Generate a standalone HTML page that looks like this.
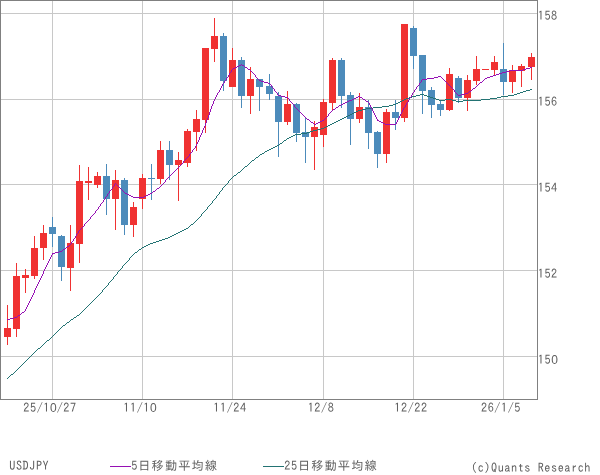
<!DOCTYPE html>
<html lang="ja"><head><meta charset="utf-8"><title>USDJPY</title>
<style>html,body{margin:0;padding:0;background:#fff}svg{display:block}text{font-family:"IPAGothic","Liberation Sans","Noto Sans CJK JP",sans-serif;font-size:12.2px;letter-spacing:0.57px;fill:#5E5E5E}.k{letter-spacing:1.13px}.z{font-family:"Liberation Sans",sans-serif;letter-spacing:0;font-size:12px}</style></head><body>
<svg width="600" height="475" viewBox="0 0 600 475">
<rect x="0" y="0" width="600" height="475" fill="#fff"/>
<g shape-rendering="crispEdges" stroke="#C8C8C8" stroke-width="1">
<line x1="52.5" y1="1" x2="52.5" y2="399"/>
<line x1="142.5" y1="1" x2="142.5" y2="399"/>
<line x1="232.5" y1="1" x2="232.5" y2="399"/>
<line x1="323.5" y1="1" x2="323.5" y2="399"/>
<line x1="413.5" y1="1" x2="413.5" y2="399"/>
<line x1="503.5" y1="1" x2="503.5" y2="399"/>
<line x1="1" y1="13.5" x2="537" y2="13.5"/>
<line x1="1" y1="99.5" x2="537" y2="99.5"/>
<line x1="1" y1="184.5" x2="537" y2="184.5"/>
<line x1="1" y1="270.5" x2="537" y2="270.5"/>
<line x1="1" y1="356.5" x2="537" y2="356.5"/>
</g>
<rect x="0.5" y="0.5" width="537" height="399" fill="none" stroke="#808080" stroke-width="1" shape-rendering="crispEdges"/>
<g shape-rendering="crispEdges">
<rect x="7" y="305" width="1" height="40" fill="#F03232"/>
<rect x="4" y="328" width="7" height="9" fill="#F03232"/>
<rect x="16" y="263" width="1" height="74" fill="#F03232"/>
<rect x="13" y="276" width="7" height="53" fill="#F03232"/>
<rect x="25" y="269" width="1" height="24" fill="#F03232"/>
<rect x="22" y="275" width="7" height="3" fill="#F03232"/>
<rect x="34" y="236" width="1" height="43" fill="#F03232"/>
<rect x="31" y="248" width="7" height="28" fill="#F03232"/>
<rect x="43" y="225" width="1" height="35" fill="#F03232"/>
<rect x="40" y="233" width="7" height="15" fill="#F03232"/>
<rect x="52" y="217" width="1" height="30" fill="#4C8BBB"/>
<rect x="49" y="227" width="7" height="7" fill="#4C8BBB"/>
<rect x="61" y="235" width="1" height="46" fill="#4C8BBB"/>
<rect x="58" y="236" width="7" height="31" fill="#4C8BBB"/>
<rect x="70" y="225" width="1" height="66" fill="#F03232"/>
<rect x="67" y="243" width="7" height="25" fill="#F03232"/>
<rect x="79" y="165" width="1" height="98" fill="#F03232"/>
<rect x="76" y="181" width="7" height="63" fill="#F03232"/>
<rect x="88" y="167" width="1" height="33" fill="#F03232"/>
<rect x="85" y="181" width="7" height="2" fill="#F03232"/>
<rect x="97" y="172" width="1" height="16" fill="#F03232"/>
<rect x="94" y="176" width="7" height="9" fill="#F03232"/>
<rect x="106" y="164" width="1" height="51" fill="#4C8BBB"/>
<rect x="103" y="176" width="7" height="23" fill="#4C8BBB"/>
<rect x="115" y="170" width="1" height="60" fill="#F03232"/>
<rect x="112" y="180" width="7" height="19" fill="#F03232"/>
<rect x="124" y="178" width="1" height="57" fill="#4C8BBB"/>
<rect x="121" y="180" width="7" height="45" fill="#4C8BBB"/>
<rect x="133" y="202" width="1" height="35" fill="#F03232"/>
<rect x="130" y="207" width="7" height="18" fill="#F03232"/>
<rect x="142" y="174" width="1" height="35" fill="#F03232"/>
<rect x="139" y="178" width="7" height="21" fill="#F03232"/>
<rect x="151" y="164" width="1" height="36" fill="#4C8BBB"/>
<rect x="148" y="178" width="7" height="1" fill="#4C8BBB"/>
<rect x="160" y="141" width="1" height="43" fill="#F03232"/>
<rect x="157" y="150" width="7" height="29" fill="#F03232"/>
<rect x="169" y="141" width="1" height="39" fill="#4C8BBB"/>
<rect x="166" y="150" width="7" height="15" fill="#4C8BBB"/>
<rect x="178" y="152" width="1" height="49" fill="#F03232"/>
<rect x="175" y="160" width="7" height="5" fill="#F03232"/>
<rect x="187" y="129" width="1" height="38" fill="#F03232"/>
<rect x="184" y="131" width="7" height="32" fill="#F03232"/>
<rect x="196" y="110" width="1" height="41" fill="#F03232"/>
<rect x="193" y="119" width="7" height="13" fill="#F03232"/>
<rect x="205" y="48" width="1" height="85" fill="#F03232"/>
<rect x="202" y="48" width="7" height="72" fill="#F03232"/>
<rect x="214" y="18" width="1" height="44" fill="#F03232"/>
<rect x="211" y="36" width="7" height="13" fill="#F03232"/>
<rect x="223" y="33" width="1" height="58" fill="#4C8BBB"/>
<rect x="220" y="36" width="7" height="45" fill="#4C8BBB"/>
<rect x="232" y="48" width="1" height="39" fill="#F03232"/>
<rect x="229" y="60" width="7" height="27" fill="#F03232"/>
<rect x="241" y="57" width="1" height="51" fill="#4C8BBB"/>
<rect x="238" y="60" width="7" height="36" fill="#4C8BBB"/>
<rect x="250" y="67" width="1" height="47" fill="#F03232"/>
<rect x="247" y="79" width="7" height="17" fill="#F03232"/>
<rect x="259" y="79" width="1" height="32" fill="#4C8BBB"/>
<rect x="256" y="79" width="7" height="8" fill="#4C8BBB"/>
<rect x="269" y="74" width="1" height="26" fill="#4C8BBB"/>
<rect x="266" y="86" width="7" height="8" fill="#4C8BBB"/>
<rect x="278" y="92" width="1" height="65" fill="#4C8BBB"/>
<rect x="275" y="96" width="7" height="26" fill="#4C8BBB"/>
<rect x="287" y="91" width="1" height="34" fill="#F03232"/>
<rect x="284" y="104" width="7" height="18" fill="#F03232"/>
<rect x="296" y="103" width="1" height="39" fill="#4C8BBB"/>
<rect x="293" y="104" width="7" height="29" fill="#4C8BBB"/>
<rect x="305" y="118" width="1" height="45" fill="#4C8BBB"/>
<rect x="302" y="132" width="7" height="5" fill="#4C8BBB"/>
<rect x="314" y="121" width="1" height="49" fill="#F03232"/>
<rect x="311" y="127" width="7" height="10" fill="#F03232"/>
<rect x="323" y="99" width="1" height="48" fill="#F03232"/>
<rect x="320" y="102" width="7" height="33" fill="#F03232"/>
<rect x="332" y="58" width="1" height="53" fill="#F03232"/>
<rect x="329" y="60" width="7" height="43" fill="#F03232"/>
<rect x="341" y="58" width="1" height="50" fill="#4C8BBB"/>
<rect x="338" y="60" width="7" height="36" fill="#4C8BBB"/>
<rect x="350" y="92" width="1" height="53" fill="#4C8BBB"/>
<rect x="347" y="95" width="7" height="24" fill="#4C8BBB"/>
<rect x="359" y="93" width="1" height="30" fill="#F03232"/>
<rect x="356" y="107" width="7" height="12" fill="#F03232"/>
<rect x="368" y="100" width="1" height="49" fill="#4C8BBB"/>
<rect x="365" y="107" width="7" height="26" fill="#4C8BBB"/>
<rect x="377" y="131" width="1" height="37" fill="#4C8BBB"/>
<rect x="374" y="132" width="7" height="22" fill="#4C8BBB"/>
<rect x="386" y="109" width="1" height="54" fill="#F03232"/>
<rect x="383" y="112" width="7" height="42" fill="#F03232"/>
<rect x="395" y="100" width="1" height="30" fill="#4C8BBB"/>
<rect x="392" y="112" width="7" height="6" fill="#4C8BBB"/>
<rect x="404" y="24" width="1" height="98" fill="#F03232"/>
<rect x="401" y="24" width="7" height="94" fill="#F03232"/>
<rect x="413" y="26" width="1" height="43" fill="#4C8BBB"/>
<rect x="410" y="28" width="7" height="28" fill="#4C8BBB"/>
<rect x="422" y="55" width="1" height="59" fill="#4C8BBB"/>
<rect x="419" y="55" width="7" height="36" fill="#4C8BBB"/>
<rect x="431" y="87" width="1" height="31" fill="#4C8BBB"/>
<rect x="428" y="90" width="7" height="15" fill="#4C8BBB"/>
<rect x="440" y="101" width="1" height="15" fill="#4C8BBB"/>
<rect x="437" y="104" width="7" height="6" fill="#4C8BBB"/>
<rect x="449" y="68" width="1" height="43" fill="#F03232"/>
<rect x="446" y="74" width="7" height="36" fill="#F03232"/>
<rect x="458" y="76" width="1" height="27" fill="#4C8BBB"/>
<rect x="455" y="78" width="7" height="20" fill="#4C8BBB"/>
<rect x="467" y="75" width="1" height="36" fill="#F03232"/>
<rect x="464" y="80" width="7" height="18" fill="#F03232"/>
<rect x="476" y="56" width="1" height="29" fill="#F03232"/>
<rect x="473" y="69" width="7" height="12" fill="#F03232"/>
<rect x="485" y="69" width="1" height="1" fill="#F03232"/>
<rect x="482" y="69" width="7" height="1" fill="#F03232"/>
<rect x="494" y="56" width="1" height="20" fill="#F03232"/>
<rect x="491" y="62" width="7" height="8" fill="#F03232"/>
<rect x="503" y="43" width="1" height="52" fill="#4C8BBB"/>
<rect x="500" y="69" width="7" height="13" fill="#4C8BBB"/>
<rect x="512" y="65" width="1" height="28" fill="#F03232"/>
<rect x="509" y="70" width="7" height="12" fill="#F03232"/>
<rect x="521" y="64" width="1" height="23" fill="#F03232"/>
<rect x="518" y="66" width="7" height="5" fill="#F03232"/>
<rect x="531" y="53" width="1" height="27" fill="#F03232"/>
<rect x="528" y="57" width="7" height="10" fill="#F03232"/>
</g>
<path d="M7 378h1v1h-1zM8 377h1v1h-1zM9 376h1v1h-1zM10 375h1v1h-1zM11 374h1v1h-1zM12 374h1v1h-1zM13 373h1v1h-1zM14 372h1v1h-1zM15 371h1v1h-1zM16 370h1v1h-1zM17 369h1v1h-1zM18 368h1v1h-1zM19 367h1v1h-1zM20 366h1v1h-1zM21 365h1v1h-1zM22 364h1v1h-1zM23 363h1v1h-1zM24 362h1v1h-1zM25 361h1v1h-1zM26 360h1v1h-1zM27 359h1v1h-1zM28 358h1v1h-1zM29 357h1v1h-1zM30 356h1v1h-1zM31 355h1v1h-1zM32 354h1v1h-1zM33 353h1v1h-1zM34 352h1v1h-1zM35 351h1v1h-1zM36 350h1v1h-1zM37 349h1v1h-1zM38 348h1v1h-1zM39 348h1v1h-1zM40 347h1v1h-1zM41 346h1v1h-1zM42 345h1v1h-1zM43 344h1v1h-1zM44 343h1v1h-1zM45 342h1v1h-1zM46 341h1v1h-1zM47 340h1v1h-1zM48 340h1v1h-1zM49 339h1v1h-1zM50 338h1v1h-1zM51 337h1v1h-1zM52 336h1v1h-1zM53 335h1v1h-1zM54 334h1v1h-1zM55 333h1v1h-1zM56 332h1v1h-1zM57 331h1v1h-1zM58 330h1v1h-1zM59 329h1v1h-1zM60 328h1v1h-1zM61 327h1v1h-1zM62 326h1v1h-1zM63 325h1v1h-1zM64 325h1v1h-1zM65 324h1v1h-1zM66 323h1v1h-1zM67 322h1v1h-1zM68 322h1v1h-1zM69 321h1v1h-1zM70 320h1v1h-1zM71 319h1v1h-1zM72 319h1v1h-1zM73 318h1v1h-1zM74 317h1v1h-1zM75 317h1v1h-1zM76 316h1v1h-1zM77 315h1v1h-1zM78 315h1v1h-1zM79 314h1v1h-1zM80 313h1v1h-1zM81 312h1v1h-1zM82 311h1v1h-1zM83 310h1v1h-1zM84 309h1v1h-1zM85 308h1v1h-1zM86 307h1v1h-1zM87 306h1v1h-1zM88 305h1v1h-1zM89 304h1v1h-1zM90 303h1v1h-1zM91 302h1v1h-1zM92 301h1v1h-1zM93 300h1v1h-1zM94 299h1v1h-1zM95 298h1v1h-1zM96 297h1v1h-1zM97 296h1v1h-1zM98 295h1v1h-1zM99 294h1v1h-1zM100 293h1v1h-1zM101 292h1v1h-1zM102 290h1v2h-1zM103 289h1v1h-1zM104 288h1v1h-1zM105 287h1v1h-1zM106 286h1v1h-1zM107 285h1v1h-1zM108 283h1v2h-1zM109 282h1v1h-1zM110 281h1v1h-1zM111 280h1v1h-1zM112 279h1v1h-1zM113 277h1v2h-1zM114 276h1v1h-1zM115 275h1v1h-1zM116 274h1v1h-1zM117 272h1v2h-1zM118 271h1v1h-1zM119 270h1v1h-1zM120 269h1v1h-1zM121 268h1v1h-1zM122 266h1v2h-1zM123 265h1v1h-1zM124 264h1v1h-1zM125 263h1v1h-1zM126 262h1v1h-1zM127 261h1v1h-1zM128 260h1v1h-1zM129 258h1v2h-1zM130 257h1v1h-1zM131 256h1v1h-1zM132 255h1v1h-1zM133 254h1v1h-1zM134 253h1v1h-1zM135 252h1v1h-1zM136 252h1v1h-1zM137 251h1v1h-1zM138 250h1v1h-1zM139 249h1v1h-1zM140 249h1v1h-1zM141 248h1v1h-1zM142 247h1v1h-1zM143 247h1v1h-1zM144 246h1v1h-1zM145 246h1v1h-1zM146 245h1v1h-1zM147 245h1v1h-1zM148 244h1v1h-1zM149 244h1v1h-1zM150 243h1v1h-1zM151 243h1v1h-1zM152 243h1v1h-1zM153 242h1v1h-1zM154 242h1v1h-1zM155 242h1v1h-1zM156 241h1v1h-1zM157 241h1v1h-1zM158 241h1v1h-1zM159 240h1v1h-1zM160 240h1v1h-1zM161 240h1v1h-1zM162 239h1v1h-1zM163 239h1v1h-1zM164 239h1v1h-1zM165 238h1v1h-1zM166 238h1v1h-1zM167 238h1v1h-1zM168 237h1v1h-1zM169 237h1v1h-1zM170 236h1v1h-1zM171 236h1v1h-1zM172 235h1v1h-1zM173 235h1v1h-1zM174 234h1v1h-1zM175 234h1v1h-1zM176 233h1v1h-1zM177 233h1v1h-1zM178 232h1v1h-1zM179 232h1v1h-1zM180 231h1v1h-1zM181 231h1v1h-1zM182 230h1v1h-1zM183 230h1v1h-1zM184 229h1v1h-1zM185 229h1v1h-1zM186 228h1v1h-1zM187 228h1v1h-1zM188 227h1v1h-1zM189 226h1v1h-1zM190 225h1v1h-1zM191 224h1v1h-1zM192 224h1v1h-1zM193 223h1v1h-1zM194 222h1v1h-1zM195 221h1v1h-1zM196 220h1v1h-1zM197 219h1v1h-1zM198 218h1v1h-1zM199 217h1v1h-1zM200 216h1v1h-1zM201 214h1v2h-1zM202 213h1v1h-1zM203 212h1v1h-1zM204 211h1v1h-1zM205 210h1v1h-1zM206 209h1v1h-1zM207 207h1v2h-1zM208 206h1v1h-1zM209 205h1v1h-1zM210 204h1v1h-1zM211 203h1v1h-1zM212 201h1v2h-1zM213 200h1v1h-1zM214 199h1v1h-1zM215 198h1v1h-1zM216 196h1v2h-1zM217 195h1v1h-1zM218 194h1v1h-1zM219 192h1v2h-1zM220 191h1v1h-1zM221 190h1v1h-1zM222 188h1v2h-1zM223 187h1v1h-1zM224 186h1v1h-1zM225 185h1v1h-1zM226 184h1v1h-1zM227 183h1v1h-1zM228 181h1v2h-1zM229 180h1v1h-1zM230 179h1v1h-1zM231 178h1v1h-1zM232 177h1v1h-1zM233 176h1v1h-1zM234 175h1v1h-1zM235 175h1v1h-1zM236 174h1v1h-1zM237 173h1v1h-1zM238 172h1v1h-1zM239 172h1v1h-1zM240 171h1v1h-1zM241 170h1v1h-1zM242 169h1v1h-1zM243 168h1v1h-1zM244 167h1v1h-1zM245 166h1v1h-1zM246 166h1v1h-1zM247 165h1v1h-1zM248 164h1v1h-1zM249 163h1v1h-1zM250 162h1v1h-1zM251 161h1v1h-1zM252 160h1v1h-1zM253 160h1v1h-1zM254 159h1v1h-1zM255 158h1v1h-1zM256 157h1v1h-1zM257 157h1v1h-1zM258 156h1v1h-1zM259 155h1v1h-1zM260 154h1v1h-1zM261 154h1v1h-1zM262 153h1v1h-1zM263 153h1v1h-1zM264 152h1v1h-1zM265 151h1v1h-1zM266 151h1v1h-1zM267 150h1v1h-1zM268 150h1v1h-1zM269 149h1v1h-1zM270 149h1v1h-1zM271 148h1v1h-1zM272 148h1v1h-1zM273 147h1v1h-1zM274 147h1v1h-1zM275 146h1v1h-1zM276 146h1v1h-1zM277 145h1v1h-1zM278 145h1v1h-1zM279 144h1v1h-1zM280 143h1v1h-1zM281 143h1v1h-1zM282 142h1v1h-1zM283 141h1v1h-1zM284 140h1v1h-1zM285 140h1v1h-1zM286 139h1v1h-1zM287 138h1v1h-1zM288 138h1v1h-1zM289 137h1v1h-1zM290 137h1v1h-1zM291 136h1v1h-1zM292 136h1v1h-1zM293 135h1v1h-1zM294 135h1v1h-1zM295 134h1v1h-1zM296 134h1v1h-1zM297 134h1v1h-1zM298 134h1v1h-1zM299 134h1v1h-1zM300 134h1v1h-1zM301 133h1v1h-1zM302 133h1v1h-1zM303 133h1v1h-1zM304 133h1v1h-1zM305 133h1v1h-1zM306 133h1v1h-1zM307 132h1v1h-1zM308 132h1v1h-1zM309 132h1v1h-1zM310 131h1v1h-1zM311 131h1v1h-1zM312 131h1v1h-1zM313 130h1v1h-1zM314 130h1v1h-1zM315 130h1v1h-1zM316 130h1v1h-1zM317 129h1v1h-1zM318 129h1v1h-1zM319 129h1v1h-1zM320 129h1v1h-1zM321 128h1v1h-1zM322 128h1v1h-1zM323 128h1v1h-1zM324 127h1v1h-1zM325 127h1v1h-1zM326 126h1v1h-1zM327 126h1v1h-1zM328 125h1v1h-1zM329 125h1v1h-1zM330 124h1v1h-1zM331 124h1v1h-1zM332 123h1v1h-1zM333 123h1v1h-1zM334 122h1v1h-1zM335 122h1v1h-1zM336 121h1v1h-1zM337 121h1v1h-1zM338 120h1v1h-1zM339 120h1v1h-1zM340 119h1v1h-1zM341 119h1v1h-1zM342 118h1v1h-1zM343 118h1v1h-1zM344 117h1v1h-1zM345 117h1v1h-1zM346 116h1v1h-1zM347 116h1v1h-1zM348 115h1v1h-1zM349 115h1v1h-1zM350 114h1v1h-1zM351 114h1v1h-1zM352 113h1v1h-1zM353 113h1v1h-1zM354 112h1v1h-1zM355 112h1v1h-1zM356 111h1v1h-1zM357 111h1v1h-1zM358 110h1v1h-1zM359 110h1v1h-1zM360 110h1v1h-1zM361 110h1v1h-1zM362 109h1v1h-1zM363 109h1v1h-1zM364 109h1v1h-1zM365 109h1v1h-1zM366 108h1v1h-1zM367 108h1v1h-1zM368 108h1v1h-1zM369 108h1v1h-1zM370 108h1v1h-1zM371 108h1v1h-1zM372 108h1v1h-1zM373 107h1v1h-1zM374 107h1v1h-1zM375 107h1v1h-1zM376 107h1v1h-1zM377 107h1v1h-1zM378 107h1v1h-1zM379 107h1v1h-1zM380 107h1v1h-1zM381 107h1v1h-1zM382 106h1v1h-1zM383 106h1v1h-1zM384 106h1v1h-1zM385 106h1v1h-1zM386 106h1v1h-1zM387 106h1v1h-1zM388 106h1v1h-1zM389 105h1v1h-1zM390 105h1v1h-1zM391 105h1v1h-1zM392 105h1v1h-1zM393 104h1v1h-1zM394 104h1v1h-1zM395 104h1v1h-1zM396 103h1v1h-1zM397 103h1v1h-1zM398 102h1v1h-1zM399 102h1v1h-1zM400 101h1v1h-1zM401 101h1v1h-1zM402 100h1v1h-1zM403 100h1v1h-1zM404 99h1v1h-1zM405 99h1v1h-1zM406 98h1v1h-1zM407 98h1v1h-1zM408 98h1v1h-1zM409 97h1v1h-1zM410 97h1v1h-1zM411 97h1v1h-1zM412 96h1v1h-1zM413 96h1v1h-1zM414 96h1v1h-1zM415 96h1v1h-1zM416 95h1v1h-1zM417 95h1v1h-1zM418 95h1v1h-1zM419 95h1v1h-1zM420 94h1v1h-1zM421 94h1v1h-1zM422 94h1v1h-1zM423 94h1v1h-1zM424 95h1v1h-1zM425 95h1v1h-1zM426 95h1v1h-1zM427 96h1v1h-1zM428 96h1v1h-1zM429 96h1v1h-1zM430 97h1v1h-1zM431 97h1v1h-1zM432 97h1v1h-1zM433 98h1v1h-1zM434 98h1v1h-1zM435 98h1v1h-1zM436 99h1v1h-1zM437 99h1v1h-1zM438 99h1v1h-1zM439 100h1v1h-1zM440 100h1v1h-1zM441 100h1v1h-1zM442 100h1v1h-1zM443 100h1v1h-1zM444 100h1v1h-1zM445 99h1v1h-1zM446 99h1v1h-1zM447 99h1v1h-1zM448 99h1v1h-1zM449 99h1v1h-1zM450 99h1v1h-1zM451 99h1v1h-1zM452 100h1v1h-1zM453 100h1v1h-1zM454 100h1v1h-1zM455 100h1v1h-1zM456 101h1v1h-1zM457 101h1v1h-1zM458 101h1v1h-1zM459 101h1v1h-1zM460 101h1v1h-1zM461 101h1v1h-1zM462 101h1v1h-1zM463 100h1v1h-1zM464 100h1v1h-1zM465 100h1v1h-1zM466 100h1v1h-1zM467 100h1v1h-1zM468 100h1v1h-1zM469 100h1v1h-1zM470 100h1v1h-1zM471 100h1v1h-1zM472 100h1v1h-1zM473 100h1v1h-1zM474 100h1v1h-1zM475 100h1v1h-1zM476 100h1v1h-1zM477 100h1v1h-1zM478 100h1v1h-1zM479 100h1v1h-1zM480 100h1v1h-1zM481 99h1v1h-1zM482 99h1v1h-1zM483 99h1v1h-1zM484 99h1v1h-1zM485 99h1v1h-1zM486 99h1v1h-1zM487 99h1v1h-1zM488 99h1v1h-1zM489 99h1v1h-1zM490 98h1v1h-1zM491 98h1v1h-1zM492 98h1v1h-1zM493 98h1v1h-1zM494 98h1v1h-1zM495 98h1v1h-1zM496 98h1v1h-1zM497 97h1v1h-1zM498 97h1v1h-1zM499 97h1v1h-1zM500 97h1v1h-1zM501 96h1v1h-1zM502 96h1v1h-1zM503 96h1v1h-1zM504 96h1v1h-1zM505 96h1v1h-1zM506 96h1v1h-1zM507 96h1v1h-1zM508 95h1v1h-1zM509 95h1v1h-1zM510 95h1v1h-1zM511 95h1v1h-1zM512 95h1v1h-1zM513 95h1v1h-1zM514 94h1v1h-1zM515 94h1v1h-1zM516 94h1v1h-1zM517 93h1v1h-1zM518 93h1v1h-1zM519 93h1v1h-1zM520 92h1v1h-1zM521 92h1v1h-1zM522 92h1v1h-1zM523 91h1v1h-1zM524 91h1v1h-1zM525 91h1v1h-1zM526 90h1v1h-1zM527 90h1v1h-1zM528 90h1v1h-1zM529 90h1v1h-1zM530 89h1v1h-1zM531 89h1v1h-1z" fill="#237373" shape-rendering="crispEdges"/>
<path d="M7 319h1v1h-1zM8 319h1v1h-1zM9 319h1v1h-1zM10 318h1v1h-1zM11 318h1v1h-1zM12 318h1v1h-1zM13 318h1v1h-1zM14 317h1v1h-1zM15 317h1v1h-1zM16 317h1v1h-1zM17 316h1v1h-1zM18 315h1v1h-1zM19 315h1v1h-1zM20 314h1v1h-1zM21 313h1v1h-1zM22 312h1v1h-1zM23 312h1v1h-1zM24 311h1v1h-1zM25 309h1v2h-1zM26 307h1v2h-1zM27 305h1v2h-1zM28 303h1v2h-1zM29 301h1v2h-1zM30 299h1v2h-1zM31 297h1v2h-1zM32 295h1v2h-1zM33 293h1v2h-1zM34 290h1v3h-1zM35 288h1v2h-1zM36 286h1v2h-1zM37 284h1v2h-1zM38 282h1v2h-1zM39 280h1v2h-1zM40 278h1v2h-1zM41 276h1v2h-1zM42 274h1v2h-1zM43 271h1v3h-1zM44 269h1v2h-1zM45 267h1v2h-1zM46 265h1v2h-1zM47 263h1v2h-1zM48 261h1v2h-1zM49 259h1v2h-1zM50 257h1v2h-1zM51 255h1v2h-1zM52 253h1v2h-1zM53 253h1v1h-1zM54 253h1v1h-1zM55 252h1v1h-1zM56 252h1v1h-1zM57 252h1v1h-1zM58 252h1v1h-1zM59 251h1v1h-1zM60 251h1v1h-1zM61 251h1v1h-1zM62 250h1v1h-1zM63 249h1v1h-1zM64 249h1v1h-1zM65 248h1v1h-1zM66 247h1v1h-1zM67 246h1v1h-1zM68 246h1v1h-1zM69 245h1v1h-1zM70 244h1v1h-1zM71 242h1v2h-1zM72 241h1v1h-1zM73 239h1v2h-1zM74 238h1v1h-1zM75 236h1v2h-1zM76 234h1v2h-1zM77 233h1v1h-1zM78 231h1v2h-1zM79 230h1v1h-1zM80 229h1v1h-1zM81 228h1v1h-1zM82 227h1v1h-1zM83 226h1v1h-1zM84 224h1v2h-1zM85 223h1v1h-1zM86 222h1v1h-1zM87 221h1v1h-1zM88 220h1v1h-1zM89 219h1v1h-1zM90 217h1v2h-1zM91 216h1v1h-1zM92 215h1v1h-1zM93 214h1v1h-1zM94 213h1v1h-1zM95 211h1v2h-1zM96 210h1v1h-1zM97 209h1v1h-1zM98 207h1v2h-1zM99 206h1v1h-1zM100 204h1v2h-1zM101 203h1v1h-1zM102 202h1v1h-1zM103 200h1v2h-1zM104 199h1v1h-1zM105 197h1v2h-1zM106 196h1v1h-1zM107 194h1v2h-1zM108 193h1v1h-1zM109 191h1v2h-1zM110 190h1v1h-1zM111 189h1v1h-1zM112 187h1v2h-1zM113 186h1v1h-1zM114 184h1v2h-1zM115 183h1v1h-1zM116 184h1v1h-1zM117 185h1v1h-1zM118 186h1v1h-1zM119 187h1v1h-1zM120 188h1v1h-1zM121 189h1v1h-1zM122 190h1v1h-1zM123 191h1v1h-1zM124 192h1v1h-1zM125 193h1v1h-1zM126 193h1v1h-1zM127 194h1v1h-1zM128 194h1v1h-1zM129 195h1v1h-1zM130 195h1v1h-1zM131 196h1v1h-1zM132 196h1v1h-1zM133 197h1v1h-1zM134 197h1v1h-1zM135 197h1v1h-1zM136 197h1v1h-1zM137 197h1v1h-1zM138 197h1v1h-1zM139 197h1v1h-1zM140 197h1v1h-1zM141 197h1v1h-1zM142 197h1v1h-1zM143 197h1v1h-1zM144 196h1v1h-1zM145 196h1v1h-1zM146 195h1v1h-1zM147 195h1v1h-1zM148 194h1v1h-1zM149 194h1v1h-1zM150 193h1v1h-1zM151 193h1v1h-1zM152 192h1v1h-1zM153 191h1v1h-1zM154 191h1v1h-1zM155 190h1v1h-1zM156 189h1v1h-1zM157 188h1v1h-1zM158 188h1v1h-1zM159 187h1v1h-1zM160 186h1v1h-1zM161 185h1v1h-1zM162 184h1v1h-1zM163 183h1v1h-1zM164 182h1v1h-1zM165 180h1v2h-1zM166 179h1v1h-1zM167 178h1v1h-1zM168 177h1v1h-1zM169 176h1v1h-1zM170 175h1v1h-1zM171 174h1v1h-1zM172 173h1v1h-1zM173 172h1v1h-1zM174 171h1v1h-1zM175 170h1v1h-1zM176 169h1v1h-1zM177 168h1v1h-1zM178 167h1v1h-1zM179 166h1v1h-1zM180 165h1v1h-1zM181 164h1v1h-1zM182 163h1v1h-1zM183 161h1v2h-1zM184 160h1v1h-1zM185 159h1v1h-1zM186 158h1v1h-1zM187 157h1v1h-1zM188 156h1v1h-1zM189 154h1v2h-1zM190 153h1v1h-1zM191 152h1v1h-1zM192 150h1v2h-1zM193 149h1v1h-1zM194 148h1v1h-1zM195 146h1v2h-1zM196 144h1v2h-1zM197 142h1v2h-1zM198 140h1v2h-1zM199 137h1v3h-1zM200 135h1v2h-1zM201 133h1v2h-1zM202 130h1v3h-1zM203 128h1v2h-1zM204 126h1v2h-1zM205 123h1v3h-1zM206 120h1v3h-1zM207 118h1v2h-1zM208 115h1v3h-1zM209 112h1v3h-1zM210 109h1v3h-1zM211 106h1v3h-1zM212 104h1v2h-1zM213 101h1v3h-1zM214 99h1v2h-1zM215 97h1v2h-1zM216 95h1v2h-1zM217 93h1v2h-1zM218 92h1v1h-1zM219 90h1v2h-1zM220 88h1v2h-1zM221 86h1v2h-1zM222 84h1v2h-1zM223 83h1v1h-1zM224 81h1v2h-1zM225 80h1v1h-1zM226 78h1v2h-1zM227 77h1v1h-1zM228 75h1v2h-1zM229 73h1v2h-1zM230 72h1v1h-1zM231 70h1v2h-1zM232 69h1v1h-1zM233 68h1v1h-1zM234 68h1v1h-1zM235 67h1v1h-1zM236 67h1v1h-1zM237 66h1v1h-1zM238 66h1v1h-1zM239 65h1v1h-1zM240 65h1v1h-1zM241 64h1v1h-1zM242 65h1v1h-1zM243 65h1v1h-1zM244 66h1v1h-1zM245 67h1v1h-1zM246 67h1v1h-1zM247 68h1v1h-1zM248 69h1v1h-1zM249 69h1v1h-1zM250 70h1v1h-1zM251 71h1v1h-1zM252 72h1v1h-1zM253 73h1v1h-1zM254 74h1v1h-1zM255 75h1v2h-1zM256 77h1v1h-1zM257 78h1v1h-1zM258 79h1v1h-1zM259 80h1v1h-1zM260 80h1v1h-1zM261 81h1v1h-1zM262 81h1v1h-1zM263 81h1v1h-1zM264 82h1v1h-1zM265 82h1v1h-1zM266 82h1v1h-1zM267 82h1v1h-1zM268 83h1v1h-1zM269 83h1v1h-1zM270 84h1v1h-1zM271 85h1v2h-1zM272 87h1v1h-1zM273 88h1v1h-1zM274 89h1v2h-1zM275 91h1v1h-1zM276 92h1v1h-1zM277 93h1v2h-1zM278 95h1v1h-1zM279 95h1v1h-1zM280 95h1v1h-1zM281 96h1v1h-1zM282 96h1v1h-1zM283 96h1v1h-1zM284 96h1v1h-1zM285 97h1v1h-1zM286 97h1v1h-1zM287 97h1v1h-1zM288 98h1v1h-1zM289 99h1v2h-1zM290 101h1v1h-1zM291 102h1v1h-1zM292 103h1v1h-1zM293 104h1v1h-1zM294 105h1v2h-1zM295 107h1v1h-1zM296 108h1v1h-1zM297 109h1v1h-1zM298 110h1v1h-1zM299 111h1v1h-1zM300 112h1v1h-1zM301 113h1v1h-1zM302 114h1v1h-1zM303 115h1v1h-1zM304 116h1v1h-1zM305 117h1v1h-1zM306 118h1v1h-1zM307 119h1v1h-1zM308 119h1v1h-1zM309 120h1v1h-1zM310 121h1v1h-1zM311 122h1v1h-1zM312 122h1v1h-1zM313 123h1v1h-1zM314 124h1v1h-1zM315 124h1v1h-1zM316 123h1v1h-1zM317 123h1v1h-1zM318 122h1v1h-1zM319 122h1v1h-1zM320 121h1v1h-1zM321 121h1v1h-1zM322 120h1v1h-1zM323 120h1v1h-1zM324 119h1v1h-1zM325 118h1v1h-1zM326 117h1v1h-1zM327 116h1v1h-1zM328 114h1v2h-1zM329 113h1v1h-1zM330 112h1v1h-1zM331 111h1v1h-1zM332 110h1v1h-1zM333 109h1v1h-1zM334 109h1v1h-1zM335 108h1v1h-1zM336 107h1v1h-1zM337 107h1v1h-1zM338 106h1v1h-1zM339 105h1v1h-1zM340 105h1v1h-1zM341 104h1v1h-1zM342 104h1v1h-1zM343 103h1v1h-1zM344 103h1v1h-1zM345 102h1v1h-1zM346 102h1v1h-1zM347 101h1v1h-1zM348 101h1v1h-1zM349 100h1v1h-1zM350 100h1v1h-1zM351 100h1v1h-1zM352 99h1v1h-1zM353 99h1v1h-1zM354 98h1v1h-1zM355 98h1v1h-1zM356 97h1v1h-1zM357 97h1v1h-1zM358 96h1v1h-1zM359 96h1v1h-1zM360 97h1v1h-1zM361 97h1v1h-1zM362 98h1v1h-1zM363 99h1v1h-1zM364 99h1v1h-1zM365 100h1v1h-1zM366 101h1v1h-1zM367 101h1v1h-1zM368 102h1v1h-1zM369 103h1v2h-1zM370 105h1v2h-1zM371 107h1v2h-1zM372 109h1v2h-1zM373 111h1v2h-1zM374 113h1v2h-1zM375 115h1v2h-1zM376 117h1v2h-1zM377 119h1v2h-1zM378 120h1v1h-1zM379 121h1v1h-1zM380 121h1v1h-1zM381 122h1v1h-1zM382 122h1v1h-1zM383 123h1v1h-1zM384 123h1v1h-1zM385 124h1v1h-1zM386 124h1v1h-1zM387 124h1v1h-1zM388 124h1v1h-1zM389 124h1v1h-1zM390 124h1v1h-1zM391 124h1v1h-1zM392 124h1v1h-1zM393 124h1v1h-1zM394 124h1v1h-1zM395 124h1v1h-1zM396 122h1v2h-1zM397 120h1v2h-1zM398 118h1v2h-1zM399 116h1v2h-1zM400 114h1v2h-1zM401 112h1v2h-1zM402 110h1v2h-1zM403 108h1v2h-1zM404 107h1v1h-1zM405 105h1v2h-1zM406 103h1v2h-1zM407 102h1v1h-1zM408 100h1v2h-1zM409 98h1v2h-1zM410 97h1v1h-1zM411 95h1v2h-1zM412 93h1v2h-1zM413 92h1v1h-1zM414 90h1v2h-1zM415 89h1v1h-1zM416 87h1v2h-1zM417 86h1v1h-1zM418 85h1v1h-1zM419 83h1v2h-1zM420 82h1v1h-1zM421 80h1v2h-1zM422 79h1v1h-1zM423 79h1v1h-1zM424 79h1v1h-1zM425 79h1v1h-1zM426 79h1v1h-1zM427 78h1v1h-1zM428 78h1v1h-1zM429 78h1v1h-1zM430 78h1v1h-1zM431 78h1v1h-1zM432 78h1v1h-1zM433 78h1v1h-1zM434 77h1v1h-1zM435 77h1v1h-1zM436 77h1v1h-1zM437 77h1v1h-1zM438 76h1v1h-1zM439 76h1v1h-1zM440 76h1v1h-1zM441 77h1v1h-1zM442 78h1v1h-1zM443 79h1v1h-1zM444 80h1v1h-1zM445 81h1v1h-1zM446 82h1v1h-1zM447 83h1v1h-1zM448 84h1v1h-1zM449 85h1v1h-1zM450 86h1v1h-1zM451 87h1v1h-1zM452 88h1v1h-1zM453 89h1v1h-1zM454 90h1v2h-1zM455 92h1v1h-1zM456 93h1v1h-1zM457 94h1v1h-1zM458 95h1v1h-1zM459 95h1v1h-1zM460 95h1v1h-1zM461 94h1v1h-1zM462 94h1v1h-1zM463 94h1v1h-1zM464 94h1v1h-1zM465 93h1v1h-1zM466 93h1v1h-1zM467 93h1v1h-1zM468 92h1v1h-1zM469 91h1v1h-1zM470 91h1v1h-1zM471 90h1v1h-1zM472 89h1v1h-1zM473 88h1v1h-1zM474 88h1v1h-1zM475 87h1v1h-1zM476 86h1v1h-1zM477 85h1v1h-1zM478 84h1v1h-1zM479 83h1v1h-1zM480 82h1v1h-1zM481 82h1v1h-1zM482 81h1v1h-1zM483 80h1v1h-1zM484 79h1v1h-1zM485 78h1v1h-1zM486 78h1v1h-1zM487 77h1v1h-1zM488 77h1v1h-1zM489 77h1v1h-1zM490 76h1v1h-1zM491 76h1v1h-1zM492 76h1v1h-1zM493 75h1v1h-1zM494 75h1v1h-1zM495 75h1v1h-1zM496 74h1v1h-1zM497 74h1v1h-1zM498 74h1v1h-1zM499 73h1v1h-1zM500 73h1v1h-1zM501 73h1v1h-1zM502 72h1v1h-1zM503 72h1v1h-1zM504 72h1v1h-1zM505 72h1v1h-1zM506 71h1v1h-1zM507 71h1v1h-1zM508 71h1v1h-1zM509 71h1v1h-1zM510 70h1v1h-1zM511 70h1v1h-1zM512 70h1v1h-1zM513 70h1v1h-1zM514 70h1v1h-1zM515 70h1v1h-1zM516 70h1v1h-1zM517 70h1v1h-1zM518 70h1v1h-1zM519 70h1v1h-1zM520 70h1v1h-1zM521 70h1v1h-1zM522 70h1v1h-1zM523 69h1v1h-1zM524 69h1v1h-1zM525 69h1v1h-1zM526 68h1v1h-1zM527 68h1v1h-1zM528 68h1v1h-1zM529 68h1v1h-1zM530 67h1v1h-1zM531 67h1v1h-1z" fill="#9610B4" shape-rendering="crispEdges"/>
<text x="537.8" y="20.3">158</text>
<text x="537.8" y="106.3">156</text>
<text x="537.8" y="192.3">154</text>
<text x="537.8" y="278.3">152</text>
<text x="537.8" y="364.3">15<tspan class="z">0</tspan></text>
<text x="50" y="412.2" text-anchor="middle">25/1<tspan class="z">0</tspan>/27</text>
<text x="140" y="412.2" text-anchor="middle">11/1<tspan class="z">0</tspan></text>
<text x="230" y="412.2" text-anchor="middle">11/24</text>
<text x="321" y="412.2" text-anchor="middle">12/8</text>
<text x="411" y="412.2" text-anchor="middle">12/22</text>
<text x="501" y="412.2" text-anchor="middle">26/1/5</text>
<text x="9.3" y="470">USDJPY</text>
<line x1="110" y1="466.5" x2="131" y2="466.5" stroke="#9610B4" stroke-width="1" shape-rendering="crispEdges"/>
<text x="131.3" y="470">5<tspan class="k" dx="0.3">日移動平均線</tspan></text>
<line x1="263" y1="466.5" x2="284" y2="466.5" stroke="#237373" stroke-width="1" shape-rendering="crispEdges"/>
<text x="284.3" y="470">25<tspan class="k" dx="0.3">日移動平均線</tspan></text>
<text x="591" y="471.8" text-anchor="end">(c)Quants Research</text>
</svg></body></html>
